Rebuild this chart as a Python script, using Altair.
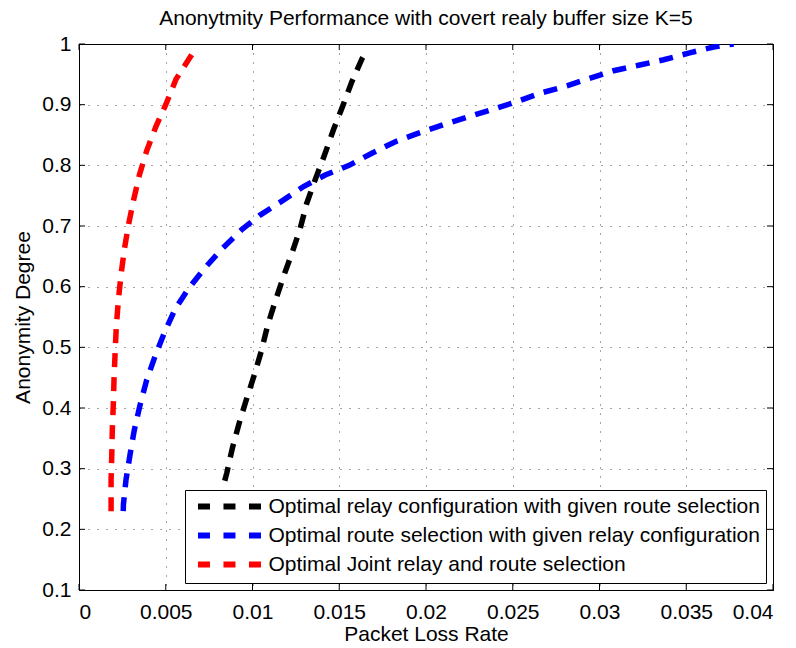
import altair as alt
import pandas as pd

# ---- data ----
series_names = [
    "Optimal relay configuration with given route selection",
    "Optimal route selection with given relay configuration",
    "Optimal Joint relay and route selection",
]
series_colors = ["#000000", "#0000ff", "#ff0000"]

relay_x = [0.0084, 0.00852, 0.00884, 0.00923, 0.00967, 0.01011, 0.0105, 0.01088, 0.01131,
           0.01179, 0.01227, 0.01275, 0.01313, 0.01361, 0.01415, 0.01467, 0.01519, 0.01573,
           0.0163, 0.0165]
relay_y = [0.28, 0.293, 0.334, 0.375, 0.416, 0.455, 0.493, 0.537, 0.576,
           0.617, 0.655, 0.696, 0.738, 0.776, 0.817, 0.859, 0.897, 0.938,
           0.975, 0.985]

route_x = [0.00255, 0.00256, 0.00271, 0.00294, 0.00319, 0.00352, 0.0039, 0.00438, 0.00492,
           0.00554, 0.00634, 0.00723, 0.00823, 0.00938, 0.01044, 0.01169, 0.01294, 0.01419,
           0.01557, 0.01688, 0.01823, 0.01957, 0.02101, 0.02245, 0.0238, 0.02524, 0.02659,
           0.02812, 0.02937, 0.03081, 0.03225, 0.0337, 0.03514, 0.03658, 0.03773]
route_y = [0.23, 0.241, 0.282, 0.323, 0.364, 0.405, 0.446, 0.485, 0.524,
           0.563, 0.598, 0.630, 0.662, 0.694, 0.718, 0.741, 0.765, 0.784,
           0.80, 0.82, 0.839, 0.853, 0.867, 0.880, 0.892, 0.905, 0.919,
           0.931, 0.943, 0.956, 0.965, 0.974, 0.985, 0.995, 1.0]

joint_x = [0.00185, 0.00185, 0.00189, 0.00192, 0.00198, 0.00202, 0.00208, 0.00215, 0.00227,
           0.00242, 0.00261, 0.00284, 0.00313, 0.00348, 0.0039, 0.00442, 0.0050, 0.00559,
           0.0064, 0.0066]
joint_y = [0.23, 0.282, 0.323, 0.364, 0.408, 0.449, 0.49, 0.534, 0.578,
           0.619, 0.661, 0.70, 0.741, 0.784, 0.824, 0.863, 0.90, 0.942,
           0.978, 0.987]

x_ticks = [0, 0.005, 0.01, 0.015, 0.02, 0.025, 0.03, 0.035, 0.04]
y_ticks = [0.1, 0.2, 0.3, 0.4, 0.5, 0.6, 0.7, 0.8, 0.9, 1.0]

FONT = "Liberation Sans"
W, H = 694, 546
TICK = 6

rows = []
for name, xs, ys in zip(series_names, [relay_x, route_x, joint_x], [relay_y, route_y, joint_y]):
    for i, (xv, yv) in enumerate(zip(xs, ys)):
        rows.append({"series": name, "x": xv, "y": yv, "idx": i})
df = pd.DataFrame(rows)

x_axis = alt.Axis(values=x_ticks, format="~g", title="Packet Loss Rate",
                  labelPadding=11, titlePadding=1)
y_axis = alt.Axis(values=y_ticks, format="~g", title="Anonymity Degree",
                  labelPadding=8, titlePadding=8)
x_enc = alt.X("x:Q", scale=alt.Scale(domain=[0, 0.04], nice=False, zero=False), axis=x_axis)
y_enc = alt.Y("y:Q", scale=alt.Scale(domain=[0.1, 1.0], nice=False, zero=False), axis=y_axis)

lines = alt.Chart(df).mark_line(strokeWidth=5.5, strokeDash=[14, 10], clip=True).encode(
    x=x_enc,
    y=y_enc,
    color=alt.Color(
        "series:N",
        scale=alt.Scale(domain=series_names, range=series_colors),
        legend=alt.Legend(
            title=None,
            orient="none",
            legendX=106,
            legendY=446,
            fillColor="white",
            strokeColor="black",
            padding=6,
            labelFont=FONT,
            labelFontSize=21,
            labelColor="black",
            labelLimit=1000,
            symbolType="M-4.27,0H4.27",
            symbolSize=225,
            symbolStrokeWidth=6,
            symbolFillColor="transparent",
            symbolDash=[12, 13.5],
            symbolOffset=28.5,
            labelOffset=28,
            rowPadding=4,
        ),
    ),
    order="idx:Q",
)

xt = pd.DataFrame({"x": x_ticks})
yt = pd.DataFrame({"y": y_ticks})
tick_style = dict(color="black", strokeWidth=1)
bottom_ticks = alt.Chart(xt).mark_rule(**tick_style).encode(
    x=x_enc, y=alt.value(H), y2=alt.value(H - TICK))
top_ticks = alt.Chart(xt).mark_rule(**tick_style).encode(
    x=x_enc, y=alt.value(0), y2=alt.value(TICK))
left_ticks = alt.Chart(yt).mark_rule(**tick_style).encode(
    y=y_enc, x=alt.value(0), x2=alt.value(TICK))
right_ticks = alt.Chart(yt).mark_rule(**tick_style).encode(
    y=y_enc, x=alt.value(W), x2=alt.value(W - TICK))

chart = alt.layer(lines, bottom_ticks, top_ticks, left_ticks, right_ticks).properties(
    width=W,
    height=H,
    autosize=alt.AutoSizeParams(type="none"),
    padding={"left": 79, "top": 44, "right": 796 - 79 - W, "bottom": 648 - 44 - H},
    title=alt.TitleParams(
        "Anonytmity Performance with covert realy buffer size K=5",
        font=FONT, fontSize=21, fontWeight="normal", color="black",
        anchor="middle", frame="group", offset=4,
    ),
    background="white",
).configure_view(
    stroke="black", strokeWidth=1
).configure_axis(
    labelFont=FONT, labelFontSize=21, labelColor="black",
    titleFont=FONT, titleFontSize=21, titleFontWeight="normal", titleColor="black",
    domainColor="black", domainWidth=1, ticks=False,
    grid=True, gridColor="black", gridDash=[1, 8], gridOpacity=0.7, gridWidth=1,
)

chart.save("out.html", embed_options={"renderer": "svg", "actions": False})
